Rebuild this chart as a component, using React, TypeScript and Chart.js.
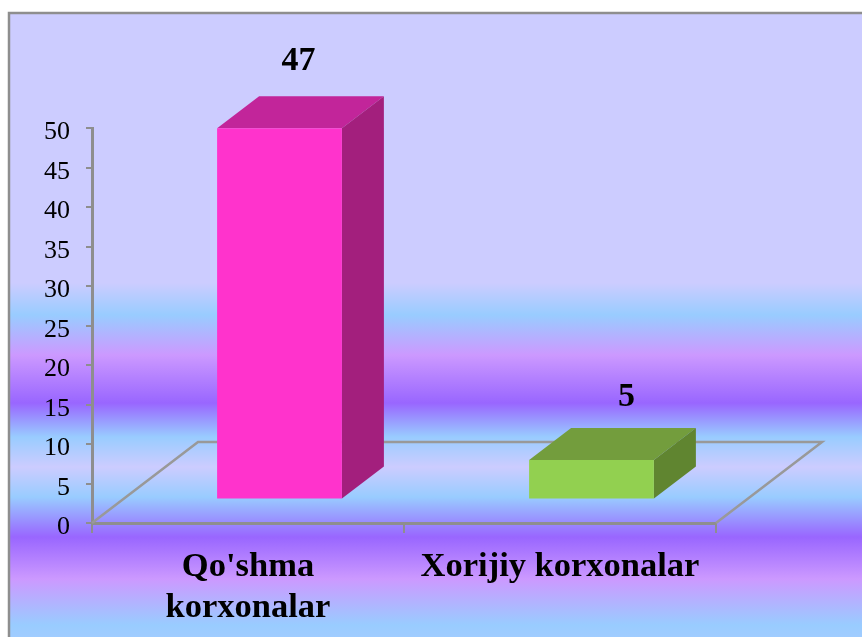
import React, { useEffect, useRef } from "react";
import { Chart, registerables } from "chart.js";

Chart.register(...registerables);

const categories: (string | string[])[] = [["Qo'shma", "korxonalar"], "Xorijiy korxonalar"];
const values = [47, 5];
const frontColors = ["#FF33CC", "#92D050"];
const topColors = ["#C2259A", "#739D3D"];
const sideColors = ["#A31F7D", "#608530"];
const labelShifts = [-2, 14];
const labelRaise = [37, 33];

const AXIS = "#8E8E8E";
const FLOOR = { dx: 106, dy: -81 };
const BAR_SHIFT = { dx: 31.5, dy: -23.5 };
const BAR_DEPTH = { dx: 42, dy: -32 };
const SERIF = "'Liberation Serif', serif";

const backgroundStops: [number, string][] = [
  [283, "#CCCCFF"],
  [315, "#99CCFF"],
  [355, "#CC99FF"],
  [403, "#9966FF"],
  [437, "#99CCFF"],
  [467, "#CCCCFF"],
  [497, "#99CCFF"],
  [537, "#9966FF"],
  [579, "#CC99FF"],
  [625, "#99CCFF"],
];

const poly = (ctx: CanvasRenderingContext2D, pts: number[][], fill: string) => {
  ctx.beginPath();
  pts.forEach(([x, y], i) => (i ? ctx.lineTo(x, y) : ctx.moveTo(x, y)));
  ctx.closePath();
  ctx.fillStyle = fill;
  ctx.fill();
};

const scene = {
  id: "scene",
  beforeDraw(chart: any) {
    const { ctx, width, height } = chart;
    const top = 13;
    const left = 9;
    const g = ctx.createLinearGradient(0, 0, 0, height);
    g.addColorStop(0, "#CCCCFF");
    backgroundStops.forEach(([y, c]) => g.addColorStop(y / height, c));
    g.addColorStop(1, "#A0CCFF");
    ctx.save();
    ctx.fillStyle = "#FFFFFF";
    ctx.fillRect(0, 0, width, height);
    ctx.fillStyle = g;
    ctx.fillRect(left, top, width - left, height - top);
    ctx.strokeStyle = AXIS;
    ctx.lineWidth = 2.5;
    ctx.beginPath();
    ctx.moveTo(left, height);
    ctx.lineTo(left, top);
    ctx.lineTo(width, top);
    ctx.stroke();
    ctx.restore();
  },
  beforeDatasetsDraw(chart: any) {
    const { ctx, chartArea: a } = chart;
    ctx.save();
    ctx.strokeStyle = "#999999";
    ctx.lineWidth = 2.5;
    ctx.beginPath();
    ctx.moveTo(a.left, a.bottom);
    ctx.lineTo(a.left + FLOOR.dx, a.bottom + FLOOR.dy);
    ctx.lineTo(a.right + FLOOR.dx, a.bottom + FLOOR.dy);
    ctx.lineTo(a.right, a.bottom);
    ctx.stroke();
    chart.getDatasetMeta(0).data.forEach((bar: any, i: number) => {
      const half = bar.width / 2;
      const l = bar.x - half + BAR_SHIFT.dx;
      const r = bar.x + half + BAR_SHIFT.dx;
      const t = bar.y + BAR_SHIFT.dy;
      const b = bar.base + BAR_SHIFT.dy;
      const { dx, dy } = BAR_DEPTH;
      poly(ctx, [[l, t], [l + dx, t + dy], [r + dx, t + dy], [r, t]], topColors[i]);
      poly(ctx, [[r, t], [r + dx, t + dy], [r + dx, b + dy], [r, b]], sideColors[i]);
    });
    ctx.restore();
    ctx.save();
    ctx.translate(BAR_SHIFT.dx, BAR_SHIFT.dy);
  },
  afterDatasetsDraw(chart: any) {
    const { ctx } = chart;
    ctx.restore();
    ctx.save();
    ctx.font = `bold 34px ${SERIF}`;
    ctx.fillStyle = "#000000";
    ctx.textAlign = "center";
    ctx.textBaseline = "alphabetic";
    chart.getDatasetMeta(0).data.forEach((bar: any, i: number) => {
      const x = bar.x + BAR_SHIFT.dx + BAR_DEPTH.dx / 2 + labelShifts[i];
      const y = bar.y + BAR_SHIFT.dy + BAR_DEPTH.dy - labelRaise[i] + 11;
      ctx.fillText(String(values[i]), x, y);
    });
    ctx.restore();
  },
};

export default function App() {
  const ref = useRef<HTMLCanvasElement>(null);
  useEffect(() => {
    document.body.style.margin = "0";
    const chart = new Chart(ref.current!, {
      type: "bar",
      data: {
        labels: categories as any,
        datasets: [
          {
            data: values,
            backgroundColor: frontColors,
            borderWidth: 0,
            barPercentage: 0.4,
            categoryPercentage: 1,
            clip: false as any,
          },
        ],
      },
      plugins: [scene as any],
      options: {
        animation: false,
        responsive: false,
        layout: { padding: { top: 128, right: 146, left: 0, bottom: 0 } },
        plugins: { legend: { display: false }, tooltip: { enabled: false }, title: { display: false } },
        scales: {
          x: {
            afterFit: (s: any) => {
              s.height = 114;
            },
            grid: { drawOnChartArea: false, color: AXIS, lineWidth: 2, tickLength: 10, offset: true },
            border: { color: AXIS, width: 3 },
            ticks: {
              color: "#000000",
              padding: 14,
              autoSkip: false,
              maxRotation: 0,
              font: { family: SERIF, size: 34.5, weight: "bold", lineHeight: 1.19 },
            },
          },
          y: {
            min: 0,
            max: 50,
            afterFit: (s: any) => {
              s.width = 92;
            },
            afterUpdate: (s: any) => {
              if (s.__shifted) return;
              s.__shifted = true;
              const draw = s.drawLabels.bind(s);
              s.drawLabels = (area: any) => {
                s.ctx.save();
                s.ctx.translate(0, 4.5);
                draw(area);
                s.ctx.restore();
              };
            },
            grid: { drawOnChartArea: false, color: AXIS, lineWidth: 2, tickLength: 6 },
            border: { color: AXIS, width: 3 },
            ticks: {
              color: "#000000",
              stepSize: 5,
              padding: 16,
              font: { family: SERIF, size: 26 },
            },
          },
        },
      },
    });
    return () => chart.destroy();
  }, []);
  return <canvas ref={ref} width={862} height={637} style={{ display: "block" }} />;
}
